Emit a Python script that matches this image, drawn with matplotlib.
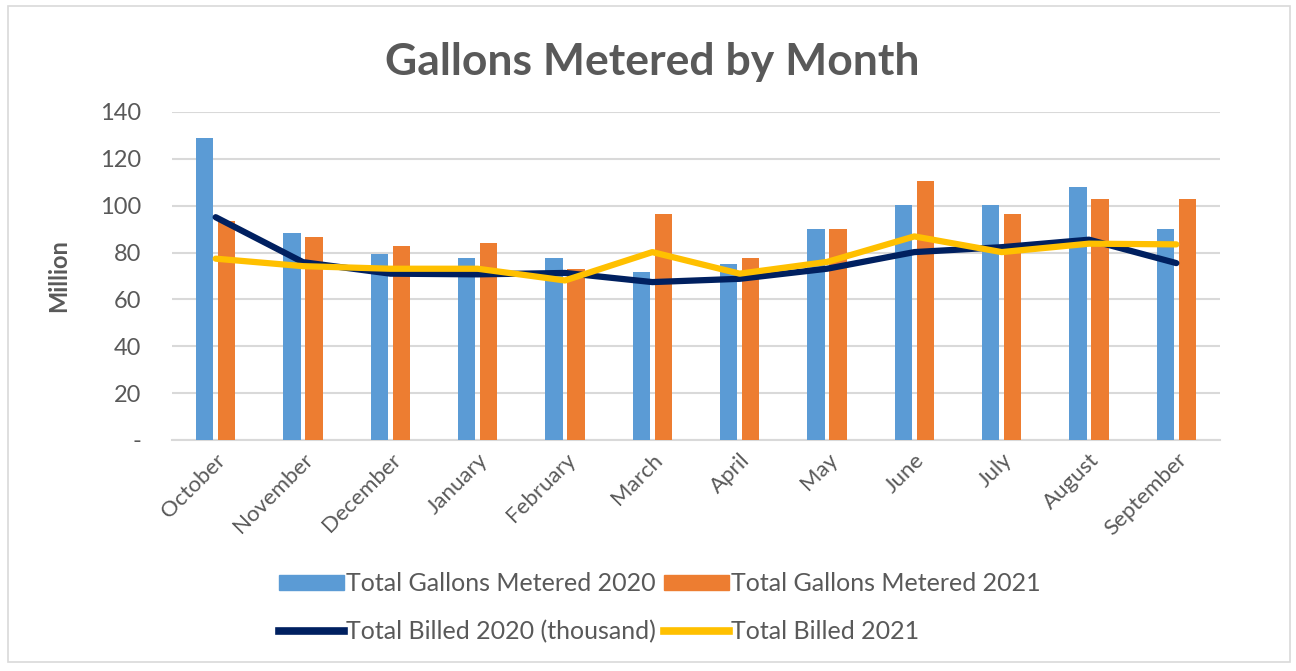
import matplotlib
matplotlib.use("Agg")
import matplotlib.pyplot as plt
from matplotlib.patches import Rectangle, Patch
from matplotlib.lines import Line2D
import numpy as np

months = ["October", "November", "December", "January", "February", "March",
          "April", "May", "June", "July", "August", "September"]
metered_2020 = [129, 88.3, 79.5, 77.7, 77.7, 71.7, 75.0, 90.2, 100.4, 100.4, 107.9, 90.2]
metered_2021 = [93.5, 86.6, 82.8, 84.0, 72.8, 96.5, 77.7, 90.2, 110.4, 96.5, 102.9, 102.9]
billed_2020 = [95.1, 75.9, 71.0, 70.7, 71.3, 67.4, 68.8, 73.1, 80.2, 82.3, 85.5, 75.5]
billed_2021 = [77.4, 74.2, 73.1, 73.1, 68.1, 80.2, 71.0, 76.0, 86.9, 80.2, 83.8, 83.5]
yticks = [0, 20, 40, 60, 80, 100, 120, 140]
ytick_labels = ["-", "20", "40", "60", "80", "100", "120", "140"]

FONT = ["Lato", "DejaVu Sans"]
plt.rcParams['font.family'] = FONT
GRAY = "#595959"

fig = plt.figure(figsize=(12.96, 6.71), dpi=100)
fig.patches.append(Rectangle((8/1296, 1 - 662/671), 1282/1296, 656/671,
                             transform=fig.transFigure, fill=False,
                             edgecolor="#d9d9d9", linewidth=1.2))

ax = fig.add_axes([172/1296, 1 - 440/671, (1220 - 172)/1296, (440 - 112)/671])
x = np.arange(len(months))
ax.bar(x - 0.125, metered_2020, width=0.2, color="#5B9BD5", zorder=3)
ax.bar(x + 0.125, metered_2021, width=0.2, color="#ED7D31", zorder=3)
ax.plot(x, billed_2020, color="#002060", linewidth=4.5, zorder=4, solid_capstyle="round")
ax.plot(x, billed_2021, color="#FFC000", linewidth=4.5, zorder=5, solid_capstyle="round")

ax.set_xlim(-0.5, len(months) - 0.5)
ax.set_ylim(0, 140)
ax.set_yticks(yticks)
ax.set_yticklabels(ytick_labels, fontsize=17, color=GRAY)
ax.set_xticks(x)
ax.set_xticklabels(months, rotation=45, ha="right", rotation_mode="anchor",
                   fontsize=16, color=GRAY)
ax.tick_params(axis="y", length=0, pad=22)
ax.tick_params(axis="x", length=0, pad=7)
ax.grid(axis="y", color="#d9d9d9", linewidth=1.5, zorder=0)
for s in ["top", "right", "left"]:
    ax.spines[s].set_visible(False)
ax.spines["bottom"].set_color("#d9d9d9")
ax.spines["bottom"].set_linewidth(1.5)
ax.set_ylabel("Million", fontsize=17, color=GRAY, fontweight="bold", labelpad=22)

fig.text(652/1296, 1 - 62/671, "Gallons Metered by Month", ha="center", va="center",
         fontsize=32, fontweight="bold", color=GRAY)

handles = [Patch(color="#5B9BD5"), Line2D([], [], color="#002060", linewidth=5.5),
           Patch(color="#ED7D31"), Line2D([], [], color="#FFC000", linewidth=5.5)]
labels = ["Total Gallons Metered 2020", "Total Billed 2020 (thousand)",
          "Total Gallons Metered 2021", "Total Billed 2021"]
fig.legend(handles, labels, ncol=2, loc="center", bbox_to_anchor=(660/1296, 1 - 608/671),
           frameon=False, fontsize=18, labelcolor=GRAY, handlelength=2.6,
           handletextpad=0.1, columnspacing=0.3, labelspacing=1.0, handleheight=0.6)

fig.savefig("out.png", dpi=100)
